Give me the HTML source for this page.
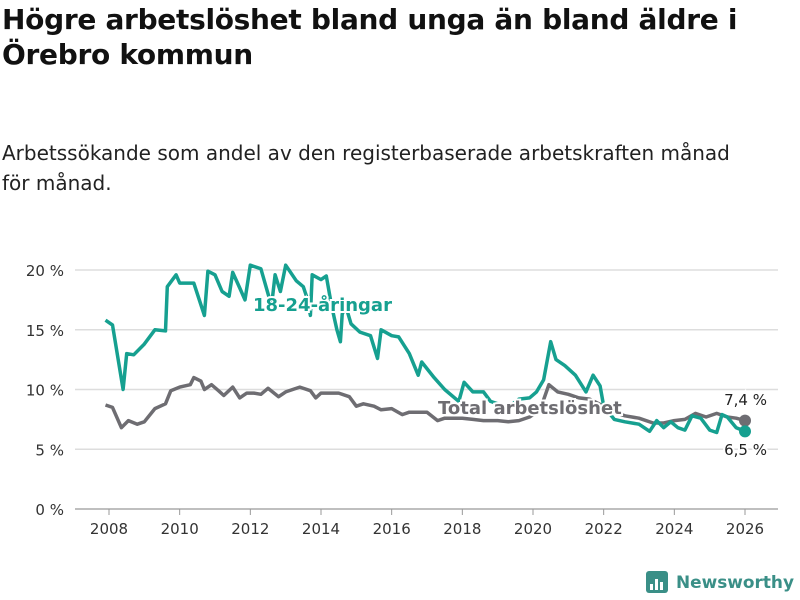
<!DOCTYPE html>
<html><head><meta charset="utf-8"><style>
body{margin:0;background:#fff;font-family:"DejaVu Sans","Liberation Sans",sans-serif;}
#wrap{position:relative;width:800px;height:600px;overflow:hidden;}
h1{position:absolute;left:2px;top:2px;margin:0;font-size:28px;line-height:35px;font-weight:bold;color:#111;width:790px;letter-spacing:-0.3px}
p.sub{position:absolute;left:2px;top:138px;margin:0;font-size:20px;line-height:30px;color:#222;width:760px}
</style></head><body>
<div id="wrap">
<h1>Högre arbetslöshet bland unga än bland äldre i Örebro kommun</h1>
<p class="sub">Arbetssökande som andel av den registerbaserade arbetskraften månad för månad.</p>
<svg id="chart" width="800" height="600" style="position:absolute;left:0;top:0"></svg>
</div>
<script>
const youthX=[2007.9,2008.1,2008.4,2008.5,2008.7,2009.0,2009.3,2009.6,2009.65,2009.9,2010.0,2010.4,2010.7,2010.8,2011.0,2011.2,2011.4,2011.5,2011.7,2011.85,2012.0,2012.3,2012.6,2012.7,2012.85,2013.0,2013.3,2013.5,2013.6,2013.7,2013.75,2014.0,2014.15,2014.3,2014.45,2014.55,2014.6,2014.7,2014.85,2015.1,2015.4,2015.6,2015.7,2016.0,2016.2,2016.5,2016.75,2016.85,2017.2,2017.5,2017.9,2018.05,2018.3,2018.6,2018.8,2019.0,2019.3,2019.6,2019.9,2020.1,2020.3,2020.5,2020.65,2020.9,2021.2,2021.5,2021.7,2021.9,2022.0,2022.3,2022.6,2023.0,2023.3,2023.5,2023.7,2023.9,2024.1,2024.3,2024.5,2024.75,2025.0,2025.2,2025.35,2025.5,2025.75,2026.0];
const youthY=[15.8,15.4,10,13,12.9,13.8,15,14.9,18.6,19.6,18.9,18.9,16.2,19.9,19.6,18.2,17.8,19.8,18.5,17.5,20.4,20.1,17,19.6,18.2,20.4,19.1,18.6,17.7,16.2,19.6,19.2,19.5,17,15,14,16.3,17,15.5,14.8,14.5,12.6,15,14.5,14.4,13,11.2,12.3,11,10,9,10.6,9.8,9.8,9,8.8,8.5,9.2,9.3,9.8,10.8,14,12.5,12,11.2,9.8,11.2,10.3,8.6,7.5,7.3,7.1,6.5,7.4,6.8,7.3,6.8,6.6,7.8,7.6,6.6,6.4,7.9,7.7,6.8,6.5];
const totalX=[2007.9,2008.1,2008.35,2008.55,2008.8,2009.0,2009.3,2009.6,2009.75,2010.0,2010.3,2010.4,2010.6,2010.7,2010.9,2011.1,2011.25,2011.5,2011.7,2011.9,2012.1,2012.3,2012.5,2012.8,2013.0,2013.2,2013.4,2013.7,2013.85,2014.0,2014.5,2014.8,2015.0,2015.2,2015.5,2015.7,2016.0,2016.3,2016.5,2017.0,2017.3,2017.5,2018.0,2018.3,2018.6,2019.0,2019.3,2019.6,2019.9,2020.2,2020.45,2020.7,2021.0,2021.3,2021.6,2022.0,2022.3,2022.6,2023.0,2023.4,2023.7,2024.0,2024.3,2024.6,2024.9,2025.2,2025.5,2025.75,2026.0];
const totalY=[8.7,8.5,6.8,7.4,7.1,7.3,8.4,8.8,9.9,10.2,10.4,11,10.7,10,10.4,9.9,9.5,10.2,9.3,9.7,9.7,9.6,10.1,9.4,9.8,10,10.2,9.9,9.3,9.7,9.7,9.4,8.6,8.8,8.6,8.3,8.4,7.9,8.1,8.1,7.4,7.6,7.6,7.5,7.4,7.4,7.3,7.4,7.7,8.3,10.4,9.8,9.6,9.3,9.2,8.6,8.1,7.8,7.6,7.2,7.2,7.4,7.5,8.0,7.7,8.0,7.7,7.6,7.4];
const yTicks=[0,5,10,15,20];
const yTickLabels=["0 %","5 %","10 %","15 %","20 %"];
const xTicks=[2008,2010,2012,2014,2016,2018,2020,2022,2024,2026];
const NS="http://www.w3.org/2000/svg";
const svg=document.getElementById('chart');
const sx=v=>109+(v-2008)*(636/18);
const sy=v=>509-v*11.95;
function mk(t,a,txt){const e=document.createElementNS(NS,t);for(const k in a)e.setAttribute(k,a[k]);if(txt!==undefined)e.textContent=txt;svg.appendChild(e);return e;}
yTicks.forEach((v,i)=>{
 const g=mk('line',{x1:75,x2:778,y1:sy(v),y2:sy(v),stroke:v===0?'#999':'#ddd','stroke-width':v===0?1.2:1.5});
 
 
 const t=mk('text',{x:64,y:sy(v)+6,'text-anchor':'end','font-size':15,fill:'#333','font-family':'DejaVu Sans, sans-serif'},yTickLabels[i]);
 
 
});
xTicks.forEach(v=>{
 const l=mk('line',{x1:sx(v),x2:sx(v),y1:509,y2:515,stroke:'#999'});
 
 
 const t=mk('text',{x:sx(v),y:534,'text-anchor':'middle','font-size':15,fill:'#333','font-family':'DejaVu Sans, sans-serif'},String(v));
 
 
});
function line(xs,ys,col,name){
 const d=xs.map((x,i)=>(i?'L':'M')+sx(x).toFixed(1)+','+sy(ys[i]).toFixed(1)).join('');
 const p=mk('path',{d:d,fill:'none',stroke:col,'stroke-width':3.5,'stroke-linejoin':'round'});
 
 
 const c=mk('circle',{cx:sx(xs[xs.length-1]),cy:sy(ys[ys.length-1]),r:6,fill:col});
 
 
}
line(totalX,totalY,'#6e6d72','total-line');
line(youthX,youthY,'#16a090','youth-line');
function lab(x,y,txt,col,name,size,w,anchor){
 const t=mk('text',{x:x,y:y,'font-size':size,'font-weight':w,fill:col,stroke:'#fff','stroke-width':4,'paint-order':'stroke','text-anchor':anchor||'start','font-family':'DejaVu Sans, sans-serif'},txt);
 
 
}
lab(253,311,'18-24-åringar','#16a090','youth-series-label',18,'bold');
lab(438,414,'Total arbetslöshet','#6e6d72','total-series-label',18,'bold');
lab(767,405,'7,4 %','#222','total-end-value',15,'normal','end');
lab(767,455,'6,5 %','#222','youth-end-value',15,'normal','end');
// logo
const lg=mk('rect',{x:646,y:571,width:22,height:22,rx:3,fill:'#3a8f87'});


[[650,584,3,6],[655,579,3,11],[660,582,3,8]].forEach(b=>{const r=mk('rect',{x:b[0],y:b[1],width:b[2],height:b[3],fill:'#fff'});

});
const lt=mk('text',{x:676,y:588,'font-size':17,'font-weight':'bold',fill:'#3a8f87','font-family':'DejaVu Sans, sans-serif',textLength:118,lengthAdjust:'spacingAndGlyphs'},'Newsworthy');


</script>
</body></html>
